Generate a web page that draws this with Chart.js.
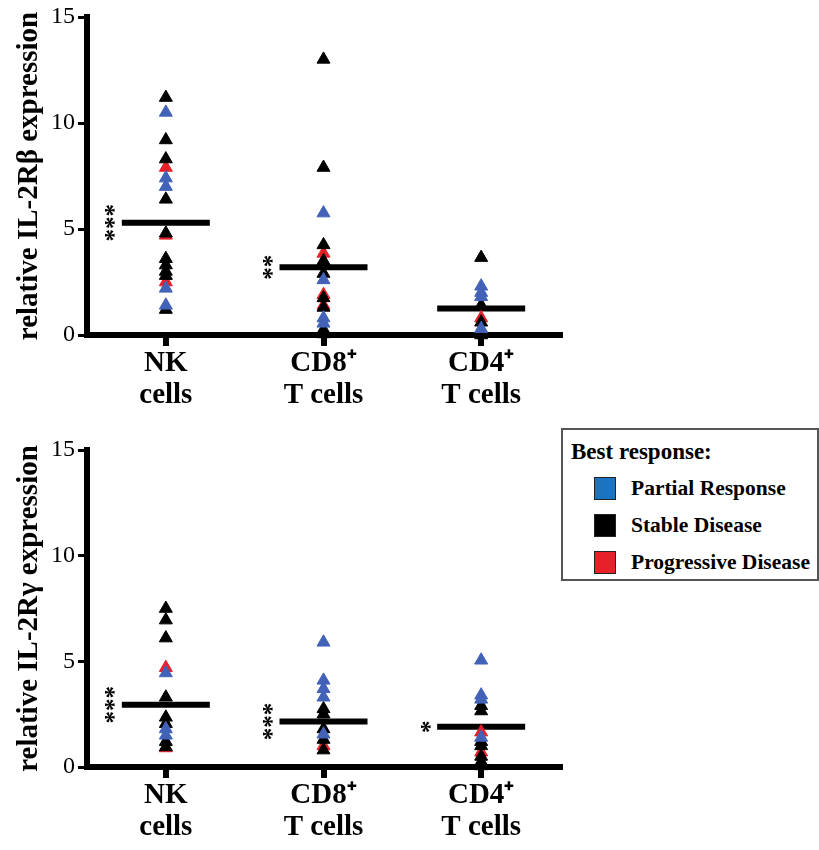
<!DOCTYPE html>
<html>
<head>
<meta charset="utf-8">
<script src="https://cdn.jsdelivr.net/npm/chart.js@4/dist/chart.umd.min.js"></script>
<style>
  body { margin:0; background:#fff; width:819px; height:850px; position:relative; overflow:hidden; font-family:"Liberation Serif", "Times New Roman", serif; }
  .Panel { position:absolute; left:0; width:819px; height:425px; }
  #Leyenda { position:absolute; left:561px; top:428px; width:254px; height:149px; border:2px solid #555; background:#fff; color:#000; font-weight:bold; }
  #Leyenda .Titulo { position:absolute; left:8px; top:9px; font-size:23px; }
  #Leyenda .Fila { position:absolute; left:31px; font-size:21.5px; display:flex; align-items:center; height:24px; white-space:nowrap; }
  #Leyenda .Caja { width:20px; height:21px; border:1px solid #222; margin-right:15px; }
</style>
</head>
<body>
<div class="Panel" style="top:0"><canvas id="GraficoBeta" width="819" height="425"></canvas></div>
<div class="Panel" style="top:425px"><canvas id="GraficoGamma" width="819" height="425"></canvas></div>
<div id="Leyenda">
  <div class="Titulo">Best response:</div>
  <div class="Fila" style="top:46px"><div class="Caja" style="background:#1b74c2"></div>Partial Response</div>
  <div class="Fila" style="top:83px"><div class="Caja" style="background:#000"></div>Stable Disease</div>
  <div class="Fila" style="top:120px"><div class="Caja" style="background:#e8202a"></div>Progressive Disease</div>
</div>
<script>
const Categorias = ['NK', 'CD8', 'CD4'];
const EtiquetasX = [['NK', 'cells'], ['CD8\u207A', 'T cells'], ['CD4\u207A', 'T cells']];
const TicksY     = [0, 5, 10, 15];

// IL-2R beta (panel superior)
const BetaParcial     = [[10.5, 7.4, 7.0, 2.2, 1.4], [5.75, 2.6, 0.8, 0.55], [2.3, 2.0, 1.8, 0.3]];
const BetaEstable     = [[11.2, 9.2, 8.3, 6.4, 4.8, 3.6, 3.3, 3.0, 2.8, 1.2], [13.0, 7.9, 4.25, 3.5, 2.9, 1.75, 1.3, 0.25, 0.05], [3.65, 1.4, 0.6, 0.0]];
const BetaProgresiva  = [[7.9, 4.7, 2.5], [3.85, 1.9, 1.4], [0.8]];
const BetaMediana     = [5.3, 3.2, 1.25];
const BetaEstrellas   = ['***', '**', ''];

// IL-2R gamma (panel inferior)
const GammaParcial    = [[4.45, 1.8, 1.5], [5.9, 4.1, 3.7, 3.3, 1.55], [5.05, 3.4, 3.2, 1.4]];
const GammaEstable    = [[7.5, 6.95, 6.1, 3.3, 2.35, 2.05, 1.2, 0.95], [2.75, 2.5, 1.8, 1.3, 0.8], [2.9, 2.65, 1.2, 1.0, 0.5, 0.25, 0.05]];
const GammaProgresiva = [[4.7, 0.9], [1.0], [1.65, 0.7]];
const GammaMediana    = [2.95, 2.15, 1.9];
const GammaEstrellas  = ['***', '***', '*'];

const ColorParcial    = '#4262b8';
const ColorEstable    = '#000000';
const ColorProgresiva = '#e8202a';
const Fuente = '"Liberation Serif", "Times New Roman", serif';

function Puntos(Series) {
  return Series.flatMap((Valores, I) => Valores.map(V => ({ x: Categorias[I], y: V })));
}

function DatasetTriangulos(Etiqueta, Series, Color) {
  return {
    label: Etiqueta,
    data: Puntos(Series),
    pointStyle: 'triangle',
    pointRadius: 7.5,
    pointHoverRadius: 7.5,
    pointBackgroundColor: Color,
    pointBorderColor: Color,
    pointBorderWidth: 1,
    showLine: false,
    clip: false,
    order: 1
  };
}

const PluginEstrellas = {
  id: 'Estrellas',
  afterDatasetsDraw(Chart) {
    const Estrellas = Chart.options.plugins.Estrellas.Textos;
    const Medianas  = Chart.options.plugins.Estrellas.Medianas;
    const Ctx = Chart.ctx;
    const X = Chart.scales.x, Y = Chart.scales.y;
    Ctx.save();
    Ctx.fillStyle = '#000';
    Ctx.font = `bold 25px ${Fuente}`;
    Ctx.textAlign = 'center';
    Ctx.textBaseline = 'middle';
    Estrellas.forEach((T, I) => {
      if (!T) return;
      const Px = X.getPixelForValue(I) - 44 - 10;
      const Py = Y.getPixelForValue(Medianas[I]);
      Ctx.save();
      Ctx.translate(Px, Py);
      Ctx.rotate(-Math.PI / 2);
      Ctx.fillText(T, 0, 4);
      Ctx.restore();
    });
    Ctx.restore();
  }
};

function CrearGrafico(Id, Titulo, Parcial, Estable, Progresiva, Mediana, Estrellas, Relleno) {
  return new Chart(document.getElementById(Id).getContext('2d'), {
    type: 'scatter',
    data: {
      labels: Categorias,
      datasets: [
        DatasetTriangulos('Partial Response', Parcial, ColorParcial),
        DatasetTriangulos('Stable Disease', Estable, ColorEstable),
        DatasetTriangulos('Progressive Disease', Progresiva, ColorProgresiva),
        {
          label: 'Mediana',
          data: Mediana.map((V, I) => ({ x: Categorias[I], y: V })),
          pointStyle: 'line',
          pointRadius: 44,
          pointHoverRadius: 44,
          pointBorderColor: '#000',
          pointBorderWidth: 6,
          showLine: false,
          clip: false,
          order: 10
        }
      ]
    },
    options: {
      responsive: false,
      animation: false,
      events: [],
      layout: { padding: Relleno, autoPadding: false },
      plugins: {
        legend: { display: false },
        tooltip: { enabled: false },
        Estrellas: { Textos: Estrellas, Medianas: Mediana }
      },
      scales: {
        x: {
          type: 'category',
          labels: Categorias,
          offset: true,
          afterFit(S) { S.height = 80; S.paddingLeft = 0; S.paddingRight = 0; },
          grid: { offset: false, drawOnChartArea: false, drawTicks: true, tickLength: 11, lineWidth: 6, color: '#000' },
          border: { display: true, width: 6, color: '#000' },
          ticks: {
            color: '#000',
            padding: 2,
            maxRotation: 0,
            font: { family: Fuente, size: 29, weight: 'bold', lineHeight: 1.1 },
            callback: (V, I) => EtiquetasX[I]
          }
        },
        y: {
          min: 0,
          max: 15,
          afterFit(S) { S.width = 87; S.paddingTop = 0; S.paddingBottom = 0; },
          afterBuildTicks(S) { S.ticks = TicksY.map(V => ({ value: V })); },
          grid: { drawOnChartArea: false, drawTicks: true, tickLength: 9, lineWidth: 3, color: '#000' },
          border: { display: true, width: 6, color: '#000' },
          ticks: {
            color: '#000',
            padding: 3,
            font: { family: Fuente, size: 24 }
          },
          title: {
            display: true,
            text: Titulo,
            color: '#000',
            padding: { top: 12, bottom: 0 },
            font: { family: Fuente, size: 29, weight: 'bold' }
          }
        }
      }
    },
    plugins: [PluginEstrellas]
  });
}

CrearGrafico('GraficoBeta', 'relative IL-2R\u03B2 expression', BetaParcial, BetaEstable, BetaProgresiva, BetaMediana, BetaEstrellas,
  { top: 17, bottom: 10, left: 0, right: 259 });
CrearGrafico('GraficoGamma', 'relative IL-2R\u03B3 expression', GammaParcial, GammaEstable, GammaProgresiva, GammaMediana, GammaEstrellas,
  { top: 25, bottom: 3, left: 0, right: 259 });
</script>
</body>
</html>
